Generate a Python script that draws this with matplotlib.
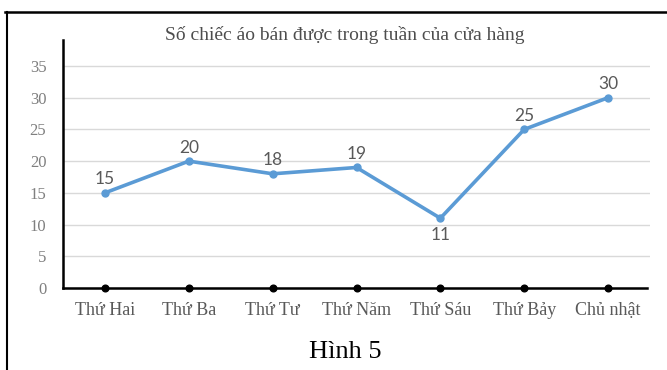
import numpy as np
import matplotlib
matplotlib.use("Agg")
import matplotlib.pyplot as plt
from matplotlib.lines import Line2D

#data
days = ["Thứ Hai", "Thứ Ba", "Thứ Tư", "Thứ Năm", "Thứ Sáu", "Thứ Bảy", "Chủ nhật"]
shirts = [15, 20, 18, 19, 11, 25, 30]
yticks = [0, 5, 10, 15, 20, 25, 30, 35]
title = "Số chiếc áo bán được trong tuần của cửa hàng"
caption = "Hình 5"

serif = ["Liberation Serif", "DejaVu Serif"]
blue = "#5B9BD5"
gray = "#595959"

fig = plt.figure(figsize=(6.67, 3.70), dpi=100)
ax = fig.add_axes([0.0945, 0.2216, 0.88, 0.6704])

x = np.arange(len(days))
ax.plot(x, shirts, color=blue, lw=2.6, marker="o", ms=5, zorder=3)
# black dots sitting on the category axis
ax.plot(x, np.zeros(len(days)), "o", color="black", ms=4.8, zorder=4, clip_on=False)

for xi, v in zip(x, shirts):
    if v == min(shirts):
        ax.annotate(str(v), (xi, v), xytext=(0, -6), textcoords="offset points",
                    ha="center", va="top", fontsize=12.5, color=gray, family="Lato")
    else:
        ax.annotate(str(v), (xi, v), xytext=(0, 4), textcoords="offset points",
                    ha="center", va="bottom", fontsize=12.5, color=gray, family="Lato")

ax.set_xlim(-0.5, len(days) - 0.5)
ax.set_ylim(0, 39.1)
ax.set_yticks(yticks)
ax.set_xticks(x)
ax.set_xticklabels(days, family=serif, fontsize=13, color=gray)
ax.set_yticklabels([str(t) for t in yticks], family=serif, fontsize=12, color="#7F7F7F")
ax.tick_params(length=0)
ax.tick_params(axis="y", pad=12)
ax.tick_params(axis="x", pad=10)
ax.grid(axis="y", color="#D9D9D9", lw=1)
ax.set_axisbelow(True)
for s in ["top", "right"]:
    ax.spines[s].set_visible(False)
ax.spines["left"].set_color("black")
ax.spines["left"].set_linewidth(1.8)
ax.spines["bottom"].set_color("black")
ax.spines["bottom"].set_linewidth(1.8)
ax.spines["bottom"].set_bounds(-0.5, 6.47)

fig.text(0.517, 0.905, title, ha="center", va="center", family=serif, fontsize=14, color="#4D4D4D")
fig.text(0.518, 0.048, caption, ha="center", va="center", family=serif, fontsize=19, color="black")

# frame lines of the scanned picture
fig.add_artist(Line2D([0.007, 1.0], [0.967, 0.967], color="black", lw=1.8))
fig.add_artist(Line2D([0.0105, 0.0105], [0.0, 0.967], color="black", lw=1.5))

fig.savefig("out.png", dpi=100)
